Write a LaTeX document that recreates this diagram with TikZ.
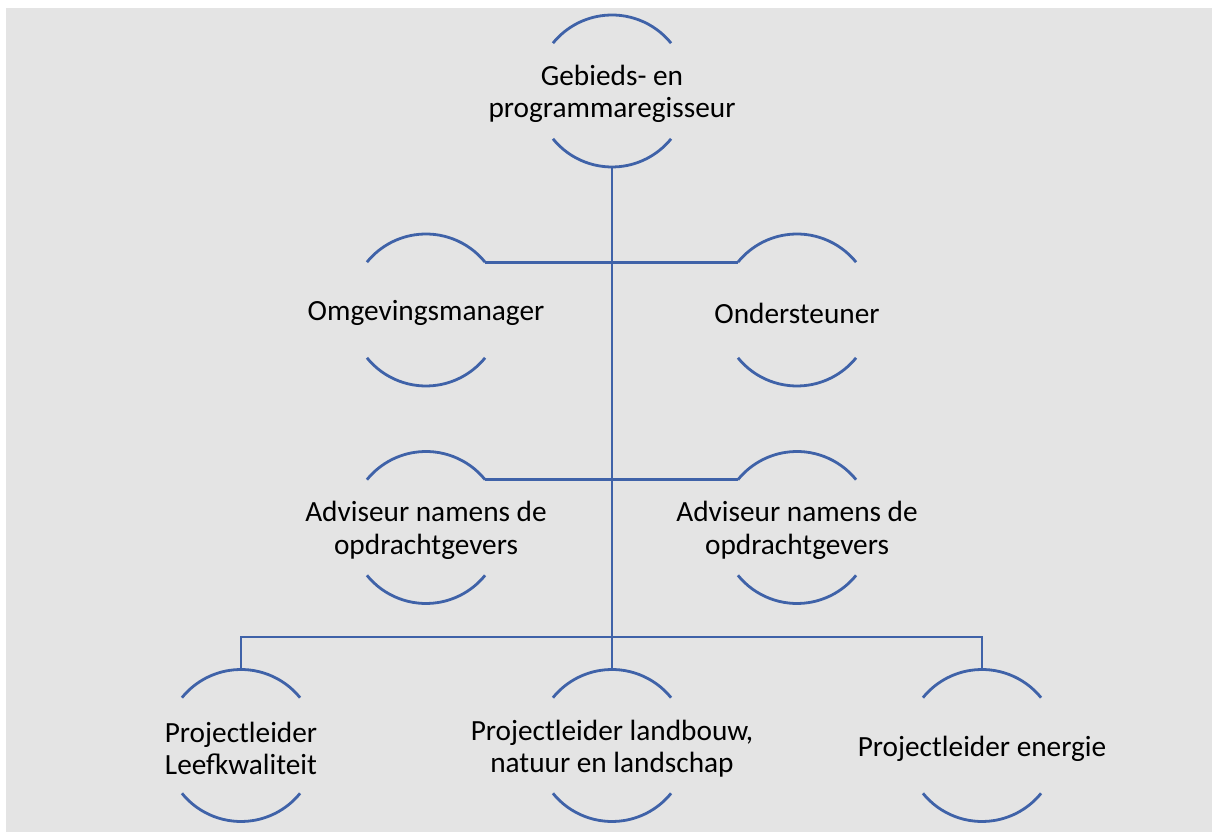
\documentclass[tikz,border=0pt]{standalone}
\usepackage{fontspec}
\setmainfont{Carlito}
\definecolor{bggray}{HTML}{E4E4E4}
\definecolor{lineblue}{HTML}{3F62A8}
\begin{document}
\begin{tikzpicture}[x=1pt,y=1pt,
  role/.style={inner sep=0pt,outer sep=0pt,align=center,yshift=-3pt,
    font=\fontsize{29.3}{32.5}\selectfont,text=black},
  conn/.style={draw=lineblue,line width=2.8pt},
  arcline/.style={draw=lineblue,line width=2.8pt}]
\useasboundingbox (0,0) rectangle (1212,832);
\fill[bggray] (6,0) rectangle (1212,824);
\node[role] (top) at (612,741) {Gebieds- en\\programmaregisseur};
\node[role] (omg) at (426,522) {Omgevingsmanager};
\node[role] (ond) at (797,522) {Ondersteuner};
\node[role] (adv1) at (426,304.5) {Adviseur namens de\\opdrachtgevers};
\node[role] (adv2) at (797,304.5) {Adviseur namens de\\opdrachtgevers};
\node[role] (pl1) at (241,86.5) {Projectleider\\Leefkwaliteit};
\node[role] (pl2) at (612,86.5) {Projectleider landbouw,\\natuur en landschap};
\node[role] (pl3) at (982,86.5) {Projectleider energie};
\foreach \n in {top,omg,ond,adv1,adv2,pl1,pl2,pl3}{
  \draw[arcline] ([shift={(39:76)},yshift=3pt]\n.center) arc[start angle=39,end angle=141,radius=76pt];
  \draw[arcline] ([shift={(219:76)},yshift=3pt]\n.center) arc[start angle=219,end angle=321,radius=76pt];
}
\coordinate (j) at (612,195);
\draw[conn] ([yshift=-73pt]top.center) -- ([yshift=79pt]pl2.center);
\draw[conn] ([shift={(39:76)},yshift=3pt]omg.center) -- ([shift={(141:76)},yshift=3pt]ond.center);
\draw[conn] ([shift={(39:76)},yshift=3pt]adv1.center) -- ([shift={(141:76)},yshift=3pt]adv2.center);
\draw[conn] ([yshift=79pt]pl1.center) -- (pl1.center |- j) -- (pl3.center |- j) -- ([yshift=79pt]pl3.center);
\end{tikzpicture}
\end{document}
